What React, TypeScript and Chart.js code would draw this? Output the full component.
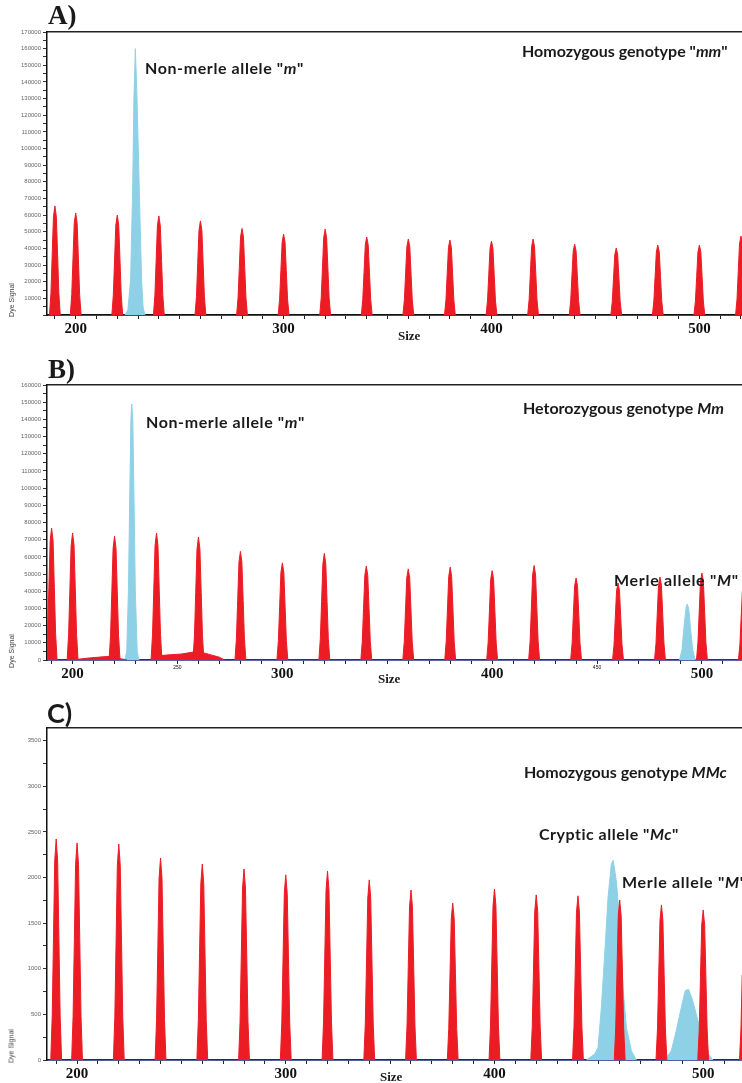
import React, { useEffect, useRef } from 'react';
import { Chart, registerables } from 'chart.js';
Chart.register(...registerables);

// ---- data (sizes in bp, signal in RFU) ----
const ladderSizes = [190, 200, 220, 240, 260, 280, 300, 320, 340, 360, 380, 400, 420, 440, 460, 480, 500, 520];
const ladderA = [65500, 61300, 60000, 59500, 56500, 52000, 48600, 51600, 46800, 45600, 45000, 44400, 45600, 42600, 40200, 42000, 42000, 47400];
const ladderB = [76800, 73900, 72100, 73900, 71600, 63200, 56500, 62000, 54700, 53000, 54000, 52000, 55000, 47700, 44800, 48300, 50600, 45000];
const ladderC = [2423, 2380, 2368, 2215, 2149, 2094, 2030, 2070, 1975, 1864, 1720, 1875, 1810, 1800, 1754, 1700, 1645, 1700];

// blue dye traces
const blueA_m_x = [223.7, 225.1, 226.4, 227.4, 228.0, 228.7, 229.5, 230.6, 231.7, 232.4, 233.3];
const blueA_m_y = [0, 3000, 21000, 75000, 130000, 160000, 130000, 75000, 21000, 5000, 0];
const blueB_m_x = [224.9, 225.8, 226.6, 227.3, 227.8, 228.2, 228.7, 229.2, 229.9, 230.8, 231.6];
const blueB_m_y = [0, 5000, 40000, 100000, 140000, 149000, 140000, 100000, 40000, 5000, 0];
const blueB_M_x = [489.3, 490.5, 491.5, 492.5, 493.0, 493.7, 494.6, 495.6, 496.8];
const blueB_M_y = [0, 6000, 20000, 31000, 32500, 30000, 18000, 6000, 0];
const blueC_Mc_x = [444, 448, 449.6, 451.2, 452.8, 454.4, 456, 456.9, 458.4, 460, 461.6, 463.2, 465.6, 468];
const blueC_Mc_y = [0, 65, 135, 570, 1150, 1780, 2150, 2190, 1960, 1525, 790, 355, 100, 0];
const blueC_M_x = [481.5, 484.7, 487.1, 489.5, 491.4, 493, 495, 497.4, 499.8, 502.2, 504.6];
const blueC_M_y = [0, 100, 320, 575, 760, 775, 650, 440, 220, 75, 0];

// red baseline humps in panel B
const humpB_x = [201, 203, 208, 213, 218, 219.5, 220.5, 222, 224, 226, 239, 241, 246, 252, 256, 259, 261, 263, 266.5, 270, 272.5];
const humpB_y = [0, 500, 1200, 1700, 2200, 2300, 2300, 900, 500, 0, 0, 2500, 3000, 3500, 4300, 5000, 4800, 4000, 2800, 1600, 0];

const majorXLabels = [200, 300, 400, 500];

// drawing shape of one size-standard peak (offset in bp, fraction of peak height)
const PEAK_SHAPE_DX = [-2.6, -1.9, -1.3, -0.7, 0, 0.7, 1.3, 1.9, 2.6];
const PEAK_SHAPE_F = [0, 0.2, 0.55, 0.9, 1, 0.9, 0.55, 0.2, 0];

const RED = '#EC1C24';
const BLUE = '#8ED1E6';

type Trace = { x: number[]; y: number[] };
type PanelCfg = {
  top: number;
  height: number;
  padTop: number;
  axisH: number;
  xMin: number;
  xMax: number;
  yMax: number;
  yStep: number;
  yLabelStep: number;
  showZero: boolean;
  ladder: number[];
  blues: Trace[];
  humps?: Trace;
  axisColor: string;
  smallLabels: number[];
};

const toPts = (t: Trace) => t.x.map((x, i) => ({ x, y: t.y[i] }));

function Panel({ cfg }: { cfg: PanelCfg }) {
  const ref = useRef<HTMLCanvasElement | null>(null);
  useEffect(() => {
    if (!ref.current) return;
    const redPts: { x: number; y: number }[] = [];
    ladderSizes.forEach((s, i) => {
      PEAK_SHAPE_DX.forEach((dx, k) => redPts.push({ x: s + dx, y: cfg.ladder[i] * PEAK_SHAPE_F[k] }));
    });
    const hideZero = (c: any) => (c.p0.parsed.y === 0 && c.p1.parsed.y === 0 ? 'rgba(0,0,0,0)' : undefined);
    const datasets: any[] = [
      {
        data: redPts,
        borderColor: RED,
        backgroundColor: RED,
        borderWidth: 1,
        fill: 'origin',
        order: 0,
        segment: { borderColor: hideZero },
      },
    ];
    if (cfg.humps) {
      datasets.push({
        data: toPts(cfg.humps),
        borderColor: RED,
        backgroundColor: RED,
        borderWidth: 1,
        fill: 'origin',
        order: 1,
        segment: { borderColor: hideZero },
      });
    }
    cfg.blues.forEach((b) => {
      datasets.push({
        data: toPts(b),
        borderColor: BLUE,
        backgroundColor: BLUE,
        borderWidth: 1,
        fill: 'origin',
        order: 2,
      });
    });
    const chart = new Chart(ref.current, {
      type: 'line',
      data: { datasets },
      options: {
        animation: false,
        responsive: true,
        maintainAspectRatio: false,
        layout: { padding: { top: cfg.padTop, right: 0, left: 0, bottom: 0 } },
        plugins: { legend: { display: false }, tooltip: { enabled: false } },
        elements: { point: { radius: 0 }, line: { tension: 0 } },
        scales: {
          x: {
            type: 'linear',
            min: cfg.xMin,
            max: cfg.xMax,
            position: 'bottom',
            afterFit: (s: any) => {
              s.height = cfg.axisH;
            },
            afterBuildTicks: (s: any) => {
              s.ticks = s.ticks.filter((t: any) => Math.abs(t.value % 10) < 1e-6);
            },
            border: { color: cfg.axisColor, width: 1.8 },
            grid: { drawOnChartArea: false, tickLength: 4, tickColor: '#222' },
            ticks: {
              stepSize: 10,
              includeBounds: false,
              autoSkip: false,
              maxRotation: 0,
              minRotation: 0,
              padding: 1,
              maxTicksLimit: 1000,
              color: '#111',
              callback: (v: any) =>
                majorXLabels.includes(v) || cfg.smallLabels.includes(v) ? String(v) : '',
              font: (ctx: any) =>
                ctx.tick && cfg.smallLabels.includes(ctx.tick.value)
                  ? { size: 5, family: 'Arial' }
                  : { size: 15, weight: 'bold', family: '"Liberation Serif", serif' },
            },
          },
          xTop: {
            type: 'linear',
            position: 'top',
            min: cfg.xMin,
            max: cfg.xMax,
            afterFit: (s: any) => {
              s.height = 0;
            },
            border: { color: '#222', width: 1.5 },
            grid: { drawOnChartArea: false, drawTicks: false },
            ticks: { display: false },
          },
          y: {
            type: 'linear',
            min: 0,
            max: cfg.yMax,
            afterFit: (s: any) => {
              s.width = 47;
            },
            border: { color: '#111', width: 1.5 },
            grid: { drawOnChartArea: false, tickLength: 4, tickColor: '#333' },
            ticks: {
              stepSize: cfg.yStep,
              includeBounds: false,
              autoSkip: false,
              maxTicksLimit: 1000,
              padding: 2,
              color: '#666',
              font: { size: 6, family: 'Arial' },
              callback: (v: any) =>
                v % cfg.yLabelStep === 0 && (v !== 0 || cfg.showZero) ? String(v) : '',
            },
          },
        },
      } as any,
    });
    return () => chart.destroy();
  }, [cfg]);
  return (
    <div style={{ position: 'absolute', left: 0, top: cfg.top, width: 742, height: cfg.height }}>
      <canvas ref={ref} />
    </div>
  );
}

const panels: PanelCfg[] = [
  {
    top: 0,
    height: 345,
    padTop: 32,
    axisH: 30,
    xMin: 186.2,
    xMax: 520.5,
    yMax: 170000,
    yStep: 5000,
    yLabelStep: 10000,
    showZero: false,
    ladder: ladderA,
    blues: [{ x: blueA_m_x, y: blueA_m_y }],
    axisColor: '#111',
    smallLabels: [],
  },
  {
    top: 345,
    height: 345,
    padTop: 40,
    axisH: 30,
    xMin: 187.8,
    xMax: 519.1,
    yMax: 160000,
    yStep: 5000,
    yLabelStep: 10000,
    showZero: true,
    ladder: ladderB,
    blues: [
      { x: blueB_m_x, y: blueB_m_y },
      { x: blueB_M_x, y: blueB_M_y },
    ],
    humps: { x: humpB_x, y: humpB_y },
    axisColor: '#28307F',
    smallLabels: [250, 450],
  },
  {
    top: 690,
    height: 393,
    padTop: 38,
    axisH: 23,
    xMin: 185.6,
    xMax: 518.6,
    yMax: 3640,
    yStep: 250,
    yLabelStep: 500,
    showZero: true,
    ladder: ladderC,
    blues: [
      { x: blueC_Mc_x, y: blueC_Mc_y },
      { x: blueC_M_x, y: blueC_M_y },
    ],
    axisColor: '#1d2a6b',
    smallLabels: [],
  },
];

const SANS = 'Lato, "Open Sans", sans-serif';
const SERIF = '"Liberation Serif", "Times New Roman", serif';

function Txt({
  left,
  baseline,
  size,
  family,
  children,
  k = 0.88,
  weight = 700,
  ls = 0,
}: {
  left: number;
  baseline: number;
  size: number;
  family: string;
  children: React.ReactNode;
  k?: number;
  weight?: number;
  ls?: number;
}) {
  return (
    <div
      style={{
        position: 'absolute',
        left,
        top: baseline - k * size,
        fontSize: size,
        lineHeight: 1,
        fontFamily: family,
        fontWeight: weight,
        whiteSpace: 'nowrap',
        letterSpacing: ls,
        color: '#1a1a1a',
      }}
    >
      {children}
    </div>
  );
}

function DyeTitle({ cx, cy }: { cx: number; cy: number }) {
  return (
    <div
      style={{
        position: 'absolute',
        left: cx,
        top: cy,
        transform: 'translate(-50%, -50%) rotate(-90deg)',
        fontSize: 7,
        fontFamily: 'Arial, sans-serif',
        color: '#444',
        whiteSpace: 'nowrap',
        lineHeight: 1,
      }}
    >
      Dye Signal
    </div>
  );
}

export default function App() {
  useEffect(() => {
    document.body.style.margin = '0';
  }, []);
  return (
    <div style={{ position: 'relative', width: 742, height: 1083, overflow: 'hidden', background: '#fff' }}>
      {panels.map((p, i) => (
        <Panel key={i} cfg={p} />
      ))}
      {/* Panel A */}
      <Txt left={48} baseline={25} size={27} family={SERIF} k={0.84}>A)</Txt>
      <Txt left={145} baseline={74} size={16} family={SANS} ls={0.6}>
        Non-merle allele "<i>m</i>"
      </Txt>
      <Txt left={522} baseline={57} size={16} family={SANS}>
        Homozygous genotype "<i>mm</i>"
      </Txt>
      <Txt left={398} baseline={340} size={13} family={SERIF} k={0.84}>Size</Txt>
      <DyeTitle cx={11} cy={300} />
      {/* Panel B */}
      <Txt left={48} baseline={379} size={27} family={SERIF} k={0.84}>B)</Txt>
      <Txt left={146} baseline={428} size={16} family={SANS} ls={0.6}>
        Non-merle allele "<i>m</i>"
      </Txt>
      <Txt left={523} baseline={414} size={16} family={SANS}>
        Hetorozygous genotype <i>Mm</i>
      </Txt>
      <Txt left={614} baseline={586} size={16} family={SANS} ls={0.7}>
        Merle allele "<i>M</i>"
      </Txt>
      <Txt left={378} baseline={683} size={13} family={SERIF} k={0.84}>Size</Txt>
      <DyeTitle cx={11} cy={651} />
      {/* Panel C */}
      <Txt left={47} baseline={723} size={27} family={SANS}>C)</Txt>
      <Txt left={524} baseline={778} size={16} family={SANS}>
        Homozygous genotype <i>MMc</i>
      </Txt>
      <Txt left={539} baseline={840} size={16} family={SANS} ls={0.5}>
        Cryptic allele "<i>Mc</i>"
      </Txt>
      <Txt left={622} baseline={888} size={16} family={SANS} ls={0.7}>
        Merle allele "<i>M</i>"
      </Txt>
      <Txt left={380} baseline={1081} size={13} family={SERIF} k={0.84}>Size</Txt>
      <DyeTitle cx={11} cy={1046} />
    </div>
  );
}
